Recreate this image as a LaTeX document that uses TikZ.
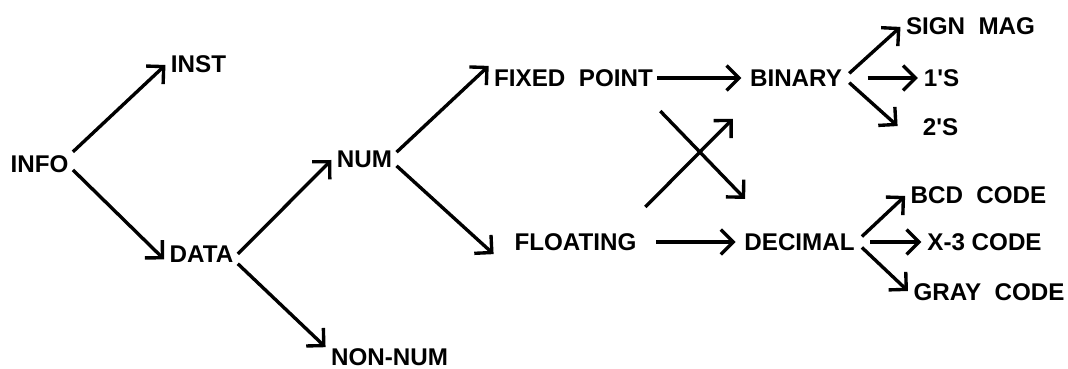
\documentclass[tikz,border=0pt]{standalone}
\usepackage{fontspec}
\setmainfont{Liberation Sans}
\usetikzlibrary{arrows.meta}

\begin{document}
\begin{tikzpicture}[x=0.025cm,y=-0.025cm,
  lbl/.style={font=\fontsize{17.2}{20}\selectfont\bfseries,inner sep=3pt},
  link/.style={->,line width=2.4pt,shorten >=1pt},
  >={Straight Barb[angle=90:12.5pt]}]
\useasboundingbox (0,0) rectangle (1068,369);
\node[lbl] (info) at (39.5,164) {INFO};
\node[lbl] (inst) at (198.5,64) {INST};
\node[lbl] (data) at (201.5,254) {DATA};
\node[lbl] (num) at (364.5,159) {NUM};
\node[lbl,inner ysep=0.5pt] (nonnum) at (389.5,357) {NON-NUM};
\node[lbl] (fixed) at (573.5,78) {FIXED~~POINT};
\node[lbl,inner xsep=14pt] (floating) at (575.5,242) {FLOATING};
\node[lbl,inner xsep=5pt] (binary) at (796,78) {BINARY};
\node[lbl,inner xsep=5pt] (decimal) at (799.5,242) {DECIMAL};
\node[lbl] (signmag) at (970.5,26) {SIGN~~MAG};
\node[lbl] (ones) at (941.5,78) {1\textquotesingle S};
\node[lbl] (twos) at (940.5,127) {2\textquotesingle S};
\node[lbl] (bcd) at (978.5,195) {BCD~~CODE};
\node[lbl] (xthree) at (984.5,242) {X-3 CODE};
\node[lbl] (gray) at (989,292) {GRAY~~CODE};
\draw[link] (info.20) -- (inst.west);
\draw[link] (info.-10) -- (data.190);
\draw[link] (data.east) -- (num.west);
\draw[link] (data.-15) -- (nonnum.172);
\draw[link] (num.12) -- (fixed.north west);
\draw[link] (num.-12) -- (floating.south west);
\draw[link] (fixed.east) -- (binary.west);
\draw[link] (floating.east) -- (decimal.west);
% the crossing pair
\draw[link] ([shift={(3,20)}]fixed.south east) -- ([shift={(9,-29)}]decimal.north west);
\draw[link] ([shift={(-11,-22)}]floating.north east) -- ([shift={(-9,27)}]binary.south west);
\draw[link] (binary.5) -- (signmag.west);
\draw[link,shorten <=13pt] (binary.east) -- (ones.west);
\draw[link] (binary.-5) -- ([xshift=-14pt]twos.west);
\draw[link] (decimal.5) -- (bcd.west);
\draw[link,shorten <=6pt] (decimal.east) -- (xthree.west);
\draw[link] (decimal.-5) -- (gray.west);
\end{tikzpicture}
\end{document}
